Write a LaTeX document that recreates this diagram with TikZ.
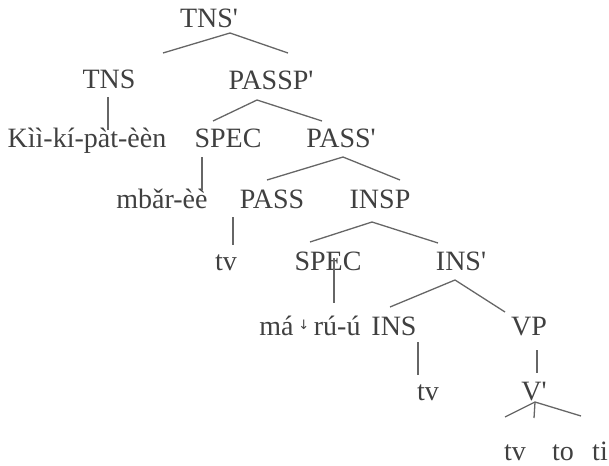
\documentclass[tikz,border=0pt]{standalone}
\usepackage{fontspec}
\setmainfont{Liberation Serif}
\newfontfamily\arrowfont{DejaVu Sans}

\newcommand{\pr}{\textquotesingle}
\newcommand{\dstep}{\,\raisebox{6pt}{\arrowfont\fontsize{13}{13}\selectfont ↓}\,}

\begin{document}
\begin{tikzpicture}[x=1pt,y=-1pt,
  lab/.style={anchor=base, inner sep=0pt, text=black!75, font=\fontsize{28}{30}\selectfont},
  branch/.style={draw=black!60, line width=1.3pt}]

\useasboundingbox (0,0) rectangle (609,465);

% Labels
  \node[lab] (tnsbar)   at (209,28)  {TNS\pr};
  \node[lab] (tns)      at (109,89)  {TNS};
  \node[lab] (passpbar) at (271,90)  {PASSP\pr};
  \node[lab] (kipat)    at (87,147)  {Kìì-kí-pàt-èèn};
  \node[lab] (spec1)    at (228,147) {SPEC};
  \node[lab] (passbar)  at (341,147) {PASS\pr};
  \node[lab] (mbar)     at (162,208) {mbǎr-èè};
  \node[lab] (pass)     at (272,208) {PASS};
  \node[lab] (insp)     at (380,208) {INSP};
  \node[lab] (tv1)      at (226,270) {tv};
  \node[lab] (spec2)    at (328,270) {SPEC};
  \node[lab] (insbar)   at (461,270) {INS\pr};
  \node[lab] (maru)     at (310,335) {má\dstep rú-ú};
  \node[lab] (ins)      at (394,335) {INS};
  \node[lab] (vp)       at (529,335) {VP};
  \node[lab] (tv2)      at (428,400) {tv};
  \node[lab] (vbar)     at (534,400) {V\pr};
  \node[lab] (tv3)      at (515,460) {tv};
  \node[lab] (to)       at (563,460) {to};
  \node[lab] (ti)       at (600,460) {ti};

% Branches
  \draw[branch] ([shift={(54,-36)}]tns.base) -- ([shift={(21,5)}]tnsbar.base) -- ([shift={(17,-37)}]passpbar.base);
  \draw[branch] ([shift={(-1,8)}]tns.base) -- ([shift={(21,-17)}]kipat.base);
  \draw[branch] ([shift={(-15,-26)}]spec1.base) -- ([shift={(-14,10)}]passpbar.base) -- ([shift={(-19,-26)}]passbar.base);
  \draw[branch] ([shift={(-26,10)}]spec1.base) -- ([shift={(40,-18)}]mbar.base);
  \draw[branch] ([shift={(-5,-28)}]pass.base) -- ([shift={(2,10)}]passbar.base) -- ([shift={(20,-28)}]insp.base);
  \draw[branch] ([shift={(-39,9)}]pass.base) -- ([shift={(7,-25)}]tv1.base);
  \draw[branch] ([shift={(-18,-28)}]spec2.base) -- ([shift={(-8,14)}]insp.base) -- ([shift={(-23,-27)}]insbar.base);
  \draw[branch] ([shift={(6,-12)}]spec2.base) -- ([shift={(24,-32)}]maru.base);
  \draw[branch] ([shift={(-4,-28)}]ins.base) -- ([shift={(-6,10)}]insbar.base) -- ([shift={(-24,-23)}]vp.base);
  \draw[branch] ([shift={(24,7)}]ins.base) -- ([shift={(-10,-25)}]tv2.base);
  \draw[branch] ([shift={(8,15)}]vp.base) -- ([shift={(3,-27)}]vbar.base);
  \draw[branch] ([shift={(-10,-43)}]tv3.base) -- ([shift={(1,2)}]vbar.base) -- ([shift={(-19,-44)}]ti.base);
  \draw[branch] ([shift={(1,2)}]vbar.base) -- ([shift={(-29,-42)}]to.base);
\end{tikzpicture}
\end{document}
